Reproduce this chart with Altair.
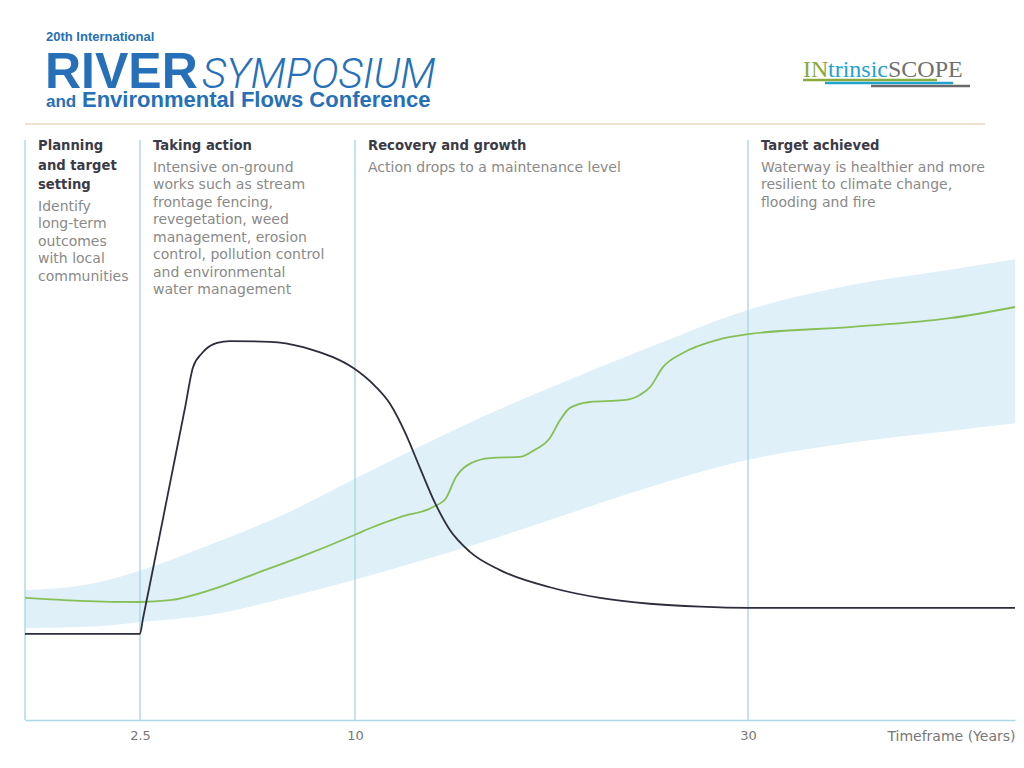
import altair as alt
import pandas as pd

# ---------------- data ----------------
phase_years = [0, 2.5, 10, 30]
tick_values = [2.5, 10, 30]
x_domain = [0, 2.5, 10, 30, 45]

black_years = [0, 2.5, 2.6, 2.85, 3.55, 4.07, 4.35, 4.67, 5.19, 5.64, 7.04, 8.19, 8.53, 9.23,
               9.93, 11.02, 11.78, 12.54, 13.31, 14.07, 14.83, 15.85, 17.38, 19.92, 22.47,
               25.01, 27.56, 30, 45]
black_vals = [14.6, 14.6, 17.1, 23.1, 40.2, 52.9, 59.8, 62.2, 63.9, 64.2, 64.1, 63.2, 62.7, 61.5,
              59.7, 56.6, 53.6, 48.8, 42.7, 36.8, 32.2, 28.5, 25.4, 22.5, 20.7,
              19.7, 19.2, 19.0, 19.0]

green_years = [0, 1.2, 2.5, 3.55, 4.94, 6.69, 8.08, 10, 10.76, 12.29, 13.97, 14.63, 15.14,
               15.95, 16.87, 18.4, 19.16, 19.92, 20.43, 20.94, 21.96, 23.64, 24.5, 25.01,
               25.67, 26.69, 28.42, 30, 35.73, 41.35, 45]
green_vals = [20.7, 20.2, 20.0, 20.3, 22.0, 25.1, 27.6, 31.4, 32.5, 34.4, 36.1, 37.6, 41.2,
              43.6, 44.4, 44.6, 45.8, 47.8, 50.8, 52.9, 53.9, 54.2, 55.1, 56.4,
              59.8, 62.2, 64.4, 65.4, 66.6, 68.1, 70.0]

band_years = [0, 1.63, 2.5, 4.94, 7.73, 9.93, 12.95, 16.36, 19.92, 25.01, 30, 35.73, 41.35, 45]
band_upper = [22.0, 23.4, 25.3, 29.7, 35.3, 40.7, 45.8, 51.2, 56.3, 63.2, 69.5, 73.7, 76.3, 78.1]
band_lower = [15.6, 15.9, 16.6, 17.8, 20.9, 23.7, 26.6, 30.0, 33.9, 39.5, 44.1, 47.0, 49.0, 50.3]

headings = ["Planning\nand target\nsetting", "Taking action",
            "Recovery and growth", "Target achieved"]
bodies = ["Identify\nlong-term\noutcomes\nwith local\ncommunities",
          "Intensive on-ground\nworks such as stream\nfrontage fencing,\nrevegetation, weed\n"
          "management, erosion\ncontrol, pollution control\nand environmental\nwater management",
          "Action drops to a maintenance level",
          "Waterway is healthier and more\nresilient to climate change,\nflooding and fire"]

axis_title = "Timeframe (Years)"
hdr_small = "20th International"
hdr_river = "RIVER"
hdr_symp = "SYMPOSIUM"
hdr_and = "and"
hdr_env = "Environmental Flows Conference"
logo_parts = ["IN", "trinsic", "SCOPE"]

# ---------------- styles ----------------
BLUE_HDR = "#2570b8"
RULE_C = "#a9d9e2"
BAND_C = "#dff0f9"
HEAD_C = "#3b3b48"
BODY_C = "#8a8a8a"
FONT = "DejaVu Sans"

x_scale = alt.Scale(domain=x_domain, range=[0, 115, 330, 723, 990])
x_axis = alt.Axis(values=tick_values, labelExpr="datum.value + ''", ticks=False, grid=False,
                  domainColor=RULE_C, domainWidth=1.5, labelColor="#777777", labelFont=FONT,
                  labelFontSize=13, labelPadding=9, labelFlush=False, title=axis_title,
                  titleFont=FONT, titleFontSize=14, titleFontWeight="normal",
                  titleColor="#777777", titleAnchor="end", titleAlign="right", titleX=990,
                  titleY=16, titleBaseline="middle")
x_enc = alt.X("year:Q", scale=x_scale, axis=x_axis)
y_scale = alt.Scale(domain=[0, 100])

band_df = pd.DataFrame({"year": band_years, "upper": band_upper, "lower": band_lower})
black_df = pd.DataFrame({"year": black_years, "val": black_vals})
green_df = pd.DataFrame({"year": green_years, "val": green_vals})
phase_df = pd.DataFrame({"year": phase_years})

band = alt.Chart(band_df).mark_area(color=BAND_C, opacity=1, interpolate="monotone").encode(
    x=x_enc, y=alt.Y("upper:Q", scale=y_scale, axis=None), y2="lower:Q")

rules = alt.Chart(phase_df).mark_rule(color=RULE_C, strokeWidth=1.4).encode(
    x=x_enc, y=alt.value(10), y2=alt.value(590))

green = alt.Chart(green_df).mark_line(color="#86bf56", strokeWidth=1.8,
                                      interpolate="monotone").encode(
    x=x_enc, y=alt.Y("val:Q", scale=y_scale, axis=None))
black = alt.Chart(black_df).mark_line(color="#2d2d3c", strokeWidth=1.8,
                                      interpolate="monotone").encode(
    x=x_enc, y=alt.Y("val:Q", scale=y_scale, axis=None))

layers = [band, rules, green, black]

HEAD_LH = 19.5
BODY_LH = 17.5
head_top = 10
for yr, h, b in zip(phase_years, headings, bodies):
    n_head = h.count("\n") + 1
    hd = pd.DataFrame({"year": [yr], "t": [h]})
    bd = pd.DataFrame({"year": [yr], "t": [b]})
    layers.append(alt.Chart(hd).mark_text(
        align="left", baseline="top", dx=13, font=FONT, fontSize=13.2, fontWeight="bold",
        color=HEAD_C, lineBreak="\n", lineHeight=HEAD_LH).encode(
        x=x_enc, y=alt.value(head_top), text="t:N"))
    layers.append(alt.Chart(bd).mark_text(
        align="left", baseline="top", dx=13, font=FONT, fontSize=14, color=BODY_C,
        lineBreak="\n", lineHeight=BODY_LH).encode(
        x=x_enc, y=alt.value(head_top + n_head * HEAD_LH + 1), text="t:N"))


def label(txt, x, y, **kw):
    return alt.Chart(pd.DataFrame({"t": [txt]})).mark_text(
        align="left", baseline="alphabetic", **kw).encode(
        x=alt.value(x), y=alt.value(y), text="t:N")


SANS = "Liberation Sans"
layers += [
    label(hdr_small, 21, -89, font=SANS, fontSize=13, fontWeight="bold", color=BLUE_HDR),
    label(hdr_river, 20, -42, font=SANS, fontSize=50, fontWeight="bold", color=BLUE_HDR),
    label(hdr_symp, 177, -42, font="Roboto", fontSize=42,
          fontStyle="italic", fontWeight=300, color=BLUE_HDR),
    label(hdr_and, 21, -23, font=SANS, fontSize=17, fontWeight="bold", color=BLUE_HDR),
    label(hdr_env, 57, -23, font=SANS, fontSize=22, fontWeight="bold", color=BLUE_HDR),
    label(logo_parts[0], 778, -53, font="Liberation Serif", fontSize=24, color="#8aaa3c"),
    label(logo_parts[1], 803, -53, font="Liberation Serif", fontSize=24, color="#22a2cf"),
    label(logo_parts[2], 863, -53, font="Liberation Serif", fontSize=24, color="#707070"),
]


def hline(x1, x2, y, color, w):
    return alt.Chart(pd.DataFrame({"a": [0]})).mark_rule(color=color, strokeWidth=w).encode(
        x=alt.value(x1), x2=alt.value(x2), y=alt.value(y))


layers += [
    hline(778, 912, -50, "#8aaa3c", 2.5),
    hline(800, 928, -47, "#22a2cf", 2.5),
    hline(846, 945, -44, "#6a6a6a", 2.5),
    hline(0, 960, -6, "#d9c8a4", 1.2),
]

chart = alt.layer(*layers).properties(
    width=990, height=590,
    padding={"left": 17, "top": 122, "right": 1, "bottom": 30},
    autosize=alt.AutoSizeParams(type="none"),
).configure_view(stroke=None)

chart.save("out.html", embed_options={"renderer": "svg", "actions": False})
